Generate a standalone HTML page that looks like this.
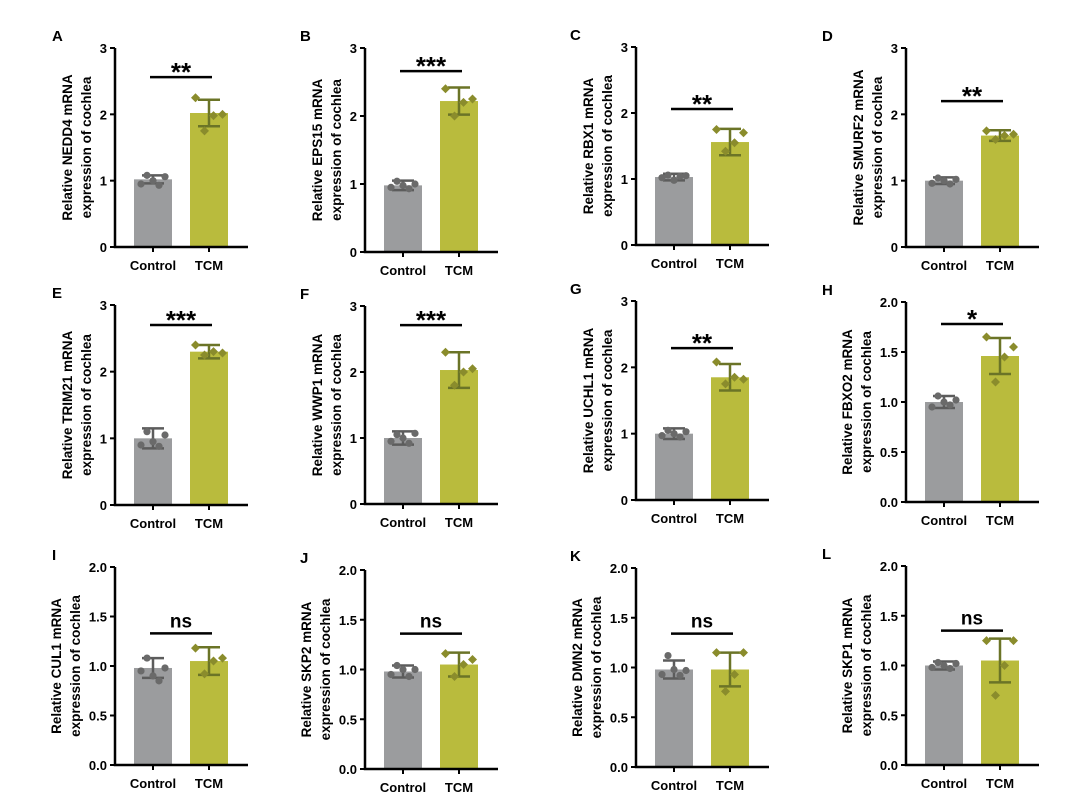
<!DOCTYPE html>
<html><head><meta charset="utf-8"><style>
html,body{margin:0;padding:0;background:#fff;}
svg{display:block;font-family:"Liberation Sans",Arial,sans-serif;}
</style></head><body>
<svg id="fig" width="1080" height="799" viewBox="0 0 1080 799"></svg>
<script>
const panelLetters=["A","B","C","D","E","F","G","H","I","J","K","L"];
const genes=["NEDD4","EPS15","RBX1","SMURF2","TRIM21","WWP1","UCHL1","FBXO2","CUL1","SKP2","DMN2","SKP1"];
const controlMeans=[1.02,0.98,1.03,1.0,1.0,1.0,1.0,1.0,0.98,0.98,0.98,1.0];
const controlSD=[0.06,0.07,0.05,0.05,0.15,0.1,0.08,0.06,0.1,0.06,0.09,0.04];
const tcmMeans=[2.02,2.22,1.56,1.68,2.3,2.03,1.85,1.46,1.05,1.05,0.98,1.05];
const tcmSD=[0.2,0.2,0.2,0.08,0.1,0.27,0.2,0.18,0.14,0.12,0.17,0.22];
const controlPoints=[[0.95,1.08,1.0,0.93,1.06],[0.95,1.04,0.98,0.93,1.0],[1.02,1.06,0.98,1.04,1.05],[0.96,1.04,1.0,0.95,1.02],[0.9,1.1,0.95,0.88,1.05],[0.95,1.05,1.0,0.92,1.07],[0.97,1.05,1.0,0.95,1.03],[0.95,1.06,1.0,0.97,1.02],[0.95,1.08,0.9,0.85,0.98],[0.95,1.04,1.0,0.93,1.0],[0.93,1.12,0.98,0.92,0.97],[0.98,1.03,1.0,0.97,1.02]];
const tcmPoints=[[2.25,1.75,1.98,2.0],[2.4,2.0,2.2,2.25],[1.75,1.42,1.55,1.7],[1.75,1.62,1.68,1.7],[2.4,2.25,2.3,2.28],[2.3,1.8,2.0,2.05],[2.08,1.75,1.85,1.82],[1.65,1.2,1.45,1.55],[1.18,0.92,1.05,1.08],[1.16,0.93,1.05,1.1],[1.15,0.76,0.93,1.15],[1.25,0.7,1.0,1.25]];
const yMax=[3,3,3,3,3,3,3,2,2,2,2,2];
const sigY=[2.56,2.66,2.06,2.2,2.7,2.71,2.29,1.78,1.33,1.36,1.34,1.35];
const sigText=["**","***","**","**","***","***","**","*","ns","ns","ns","ns"];
// layout
const axX=[115,365,636,906];
const letterX=[52,300,570,822];
const rowTop=[[48,48,47,48],[305,306,301,302],[567,570,568,566]];
const rowBot=[[247,252,245,247],[505,504,500,502],[765,769,767,765]];
const svg=document.getElementById('fig');
const NS="http://www.w3.org/2000/svg";
function mk(tag,attrs,parent){const e=document.createElementNS(NS,tag);for(const k in attrs)e.setAttribute(k,attrs[k]);(parent||svg).appendChild(e);return e;}
for(let i=0;i<12;i++){
  const r=Math.floor(i/4),c=i%4;
  const x0=axX[c],top=rowTop[r][c],bot=rowBot[r][c];
  const ys=v=>bot-(v/yMax[i])*(bot-top);
  const g=mk('g',{});
  
  
  const lt=mk('text',{x:letterX[c],y:top-7,'font-size':15,'font-weight':'bold'},g);lt.textContent=panelLetters[i];
  
  const cx=[x0+38,x0+94],bw=38;
  const means=[controlMeans[i],tcmMeans[i]],sds=[controlSD[i],tcmSD[i]];
  const fills=['#9b9c9e','#b9bb3d'],ecol=['#5c5c5c','#6b7427'],pcol=['#6a6a6a','#8a8c2c'];
  for(let b=0;b<2;b++){
    const bar=mk('rect',{x:cx[b]-bw/2,y:ys(means[b]),width:bw,height:bot-ys(means[b]),fill:fills[b]},g);
    
    const yh=ys(means[b]+sds[b]),yl=ys(means[b]-sds[b]);
    const eb=mk('path',{d:`M${cx[b]} ${yh}V${yl}M${cx[b]-11} ${yh}H${cx[b]+11}M${cx[b]-11} ${yl}H${cx[b]+11}`,stroke:ecol[b],'stroke-width':2.5,fill:'none'},g);
    
    const pts=b?tcmPoints[i]:controlPoints[i];
    pts.forEach((v,k)=>{
      const px=cx[b]+(k-(pts.length-1)/2)*(b?9:6);const py=ys(v);
      let m;
      if(b)m=mk('path',{d:`M${px} ${py-4.5}L${px+4.5} ${py}L${px} ${py+4.5}L${px-4.5} ${py}Z`,fill:pcol[b]},g);
      else m=mk('circle',{cx:px,cy:py,r:3.6,fill:pcol[b]},g);
      
    });
  }
  const ax=mk('path',{d:`M${x0} ${top}V${bot}H${x0+133}`,stroke:'#000','stroke-width':2.5,fill:'none'},g);
  
  const step=yMax[i]===3?1:0.5;
  for(let v=0;v<=yMax[i]+1e-9;v+=step){
    const y=ys(v);
    mk('line',{x1:x0-5,x2:x0,y1:y,y2:y,stroke:'#000','stroke-width':2},g);
    const t=mk('text',{x:x0-8,y:y+5,'font-size':13,'font-weight':'bold','text-anchor':'end'},g);
    t.textContent=yMax[i]===3?String(v):v.toFixed(1);
    
  }
  ['Control','TCM'].forEach((n,b)=>{
    mk('line',{x1:cx[b],x2:cx[b],y1:bot,y2:bot+5,stroke:'#000','stroke-width':2},g);
    const t=mk('text',{x:cx[b],y:bot+23,'font-size':13,'font-weight':'bold','text-anchor':'middle'},g);t.textContent=n;
    
  });
  const midY=(top+bot)/2;
  const tx=yMax[i]===3?x0-43:x0-54;
  const yl=mk('text',{transform:`translate(${tx},${midY}) rotate(-90)`,'font-size':13.5,'font-weight':'bold','text-anchor':'middle'},g);
  
  const s1=mk('tspan',{x:0,y:0},yl);s1.textContent='Relative '+genes[i]+' mRNA';
  const s2=mk('tspan',{x:0,y:19},yl);s2.textContent='expression of cochlea';
  const sy=ys(sigY[i]);
  const sl=mk('line',{x1:cx[0]-3,x2:cx[1]+3,y1:sy,y2:sy,stroke:'#000','stroke-width':2.5},g);
  
  const isNs=sigText[i]==='ns';
  const st=mk('text',{x:(cx[0]+cx[1])/2,y:isNs?sy-6:sy+4,'font-size':isNs?19:26,'font-weight':'bold','text-anchor':'middle'},g);
  st.textContent=sigText[i];
  
}
</script>
</body></html>
